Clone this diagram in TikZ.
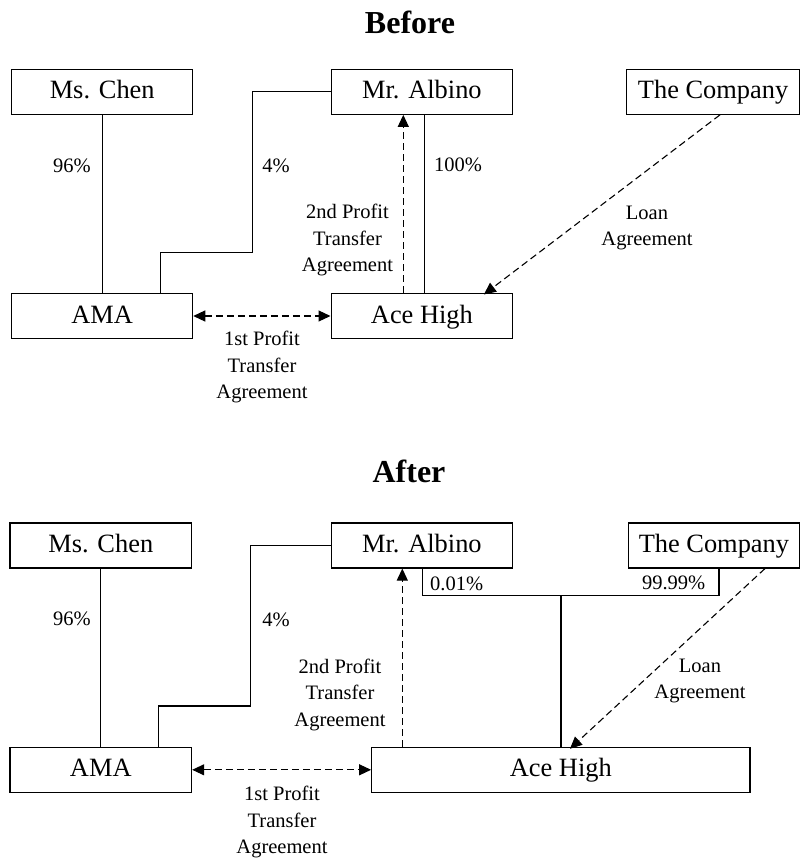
\documentclass[tikz,border=0pt]{standalone}
\usepackage{fontspec}
\setmainfont{Liberation Serif}
\usetikzlibrary{arrows.meta}
\begin{document}
\begin{tikzpicture}[x=1pt,y=-1pt,
  ent/.style={draw, line width=1.1pt, minimum height=45pt, inner sep=0pt, text height=18.5pt, text depth=4.5pt, font=\fontsize{26.4}{30}\selectfont},
  lbl/.style={font=\fontsize{20.5}{26.5}\selectfont, align=center, inner sep=0pt},
  ttl/.style={font=\fontsize{32}{36}\selectfont\bfseries, inner sep=0pt},
  own/.style={line width=1.1pt},
  agr/.style={line width=1.1pt, dash pattern=on 7pt off 4pt},
  tip/.style={-{Triangle[length=12pt,width=11pt]}},
  tips/.style={{Triangle[length=12pt,width=11pt]}-{Triangle[length=12pt,width=11pt]}}
]
\useasboundingbox (0,0) rectangle (800,860);

% ---------- Before ----------
\node[ttl] (t1) at (410,22.7) {Before};
\node[ent, minimum width=181pt] (chen1) at (102.2,91.8) {Ms. Chen};
\node[ent, minimum width=181.7pt] (alb1) at (421.9,91.8) {Mr. Albino};
\node[ent, minimum width=172.8pt] (comp1) at (713.1,91.8) {The Company};
\node[ent, minimum width=181pt] (ama1) at (102.2,316) {AMA};
\node[ent, minimum width=181.7pt] (ace1) at (421.9,316) {Ace High};

\draw[own] (chen1.south) -- (chen1.south |- ama1.north);
\coordinate (k1) at (252.3,252.3);
\draw[own] ([xshift=149pt]ama1.north west) |- (k1) |- (alb1.west);
\draw[own] ([xshift=2.8pt]ace1.north) -- ([xshift=2.8pt]alb1.south);
\draw[agr,tip] ([xshift=-18.6pt]ace1.north) -- ([xshift=-18.6pt]alb1.south);
\draw[agr,tip] ([xshift=6.9pt]comp1.south) -- ([xshift=-29.4pt,yshift=-1.5pt]ace1.north east);
\draw[agr,tips] (ama1.east) -- (ace1.west);

\node[lbl] (p96a) at (72,165.7) {96\%};
\node[lbl] (p4a) at (276,166) {4\%};
\node[lbl] (p100a) at (458,165) {100\%};
\node[lbl] (sp1) at (347.5,240) {2nd Profit\\Transfer\\Agreement};
\node[lbl] (ln1) at (647,228) {Loan\\Agreement};
\node[lbl] (fp1) at (262,367) {1st Profit\\Transfer\\Agreement};

% ---------- After ----------
\node[ttl] (t2) at (409,471.7) {After};
\node[ent, minimum width=181.7pt] (chen2) at (100.8,545.5) {Ms. Chen};
\node[ent, minimum width=181.7pt] (alb2) at (421.9,545.5) {Mr. Albino};
\node[ent, minimum width=171.2pt] (comp2) at (713.9,545.5) {The Company};
\node[ent, minimum width=181.7pt] (ama2) at (100.8,769.8) {AMA};
\node[ent, minimum width=378.3pt] (ace2) at (560.8,769.8) {Ace High};

\draw[own] (chen2.south) -- (chen2.south |- ama2.north);
\coordinate (k2) at (250.7,706);
\draw[own] ([xshift=148.7pt]ama2.north west) |- (k2) |- (alb2.west);
\coordinate (br) at (561,595.7);
\draw[own] ([xshift=0.4pt]alb2.south) |- (br) -| ([xshift=5.1pt]comp2.south);
\draw[own] (br) -- (br |- ace2.north);
\coordinate (sp2top) at ([xshift=-19.6pt]alb2.south);
\draw[agr,tip] (sp2top |- ace2.north) -- (sp2top);
\draw[agr,tip] ([xshift=51.1pt]comp2.south) -- ([xshift=9.2pt,yshift=-2pt]ace2.north);
\draw[agr,tips] (ama2.east) -- (ace2.west);

\node[lbl] (p96b) at (72,619.3) {96\%};
\node[lbl] (p4b) at (276,620) {4\%};
\node[lbl] (p001) at (456.7,584) {0.01\%};
\node[lbl] (p9999) at (673.7,583.3) {99.99\%};
\node[lbl] (sp2) at (340,694.7) {2nd Profit\\Transfer\\Agreement};
\node[lbl] (ln2) at (700,681) {Loan\\Agreement};
\node[lbl] (fp2) at (282,822) {1st Profit\\Transfer\\Agreement};
\end{tikzpicture}
\end{document}
